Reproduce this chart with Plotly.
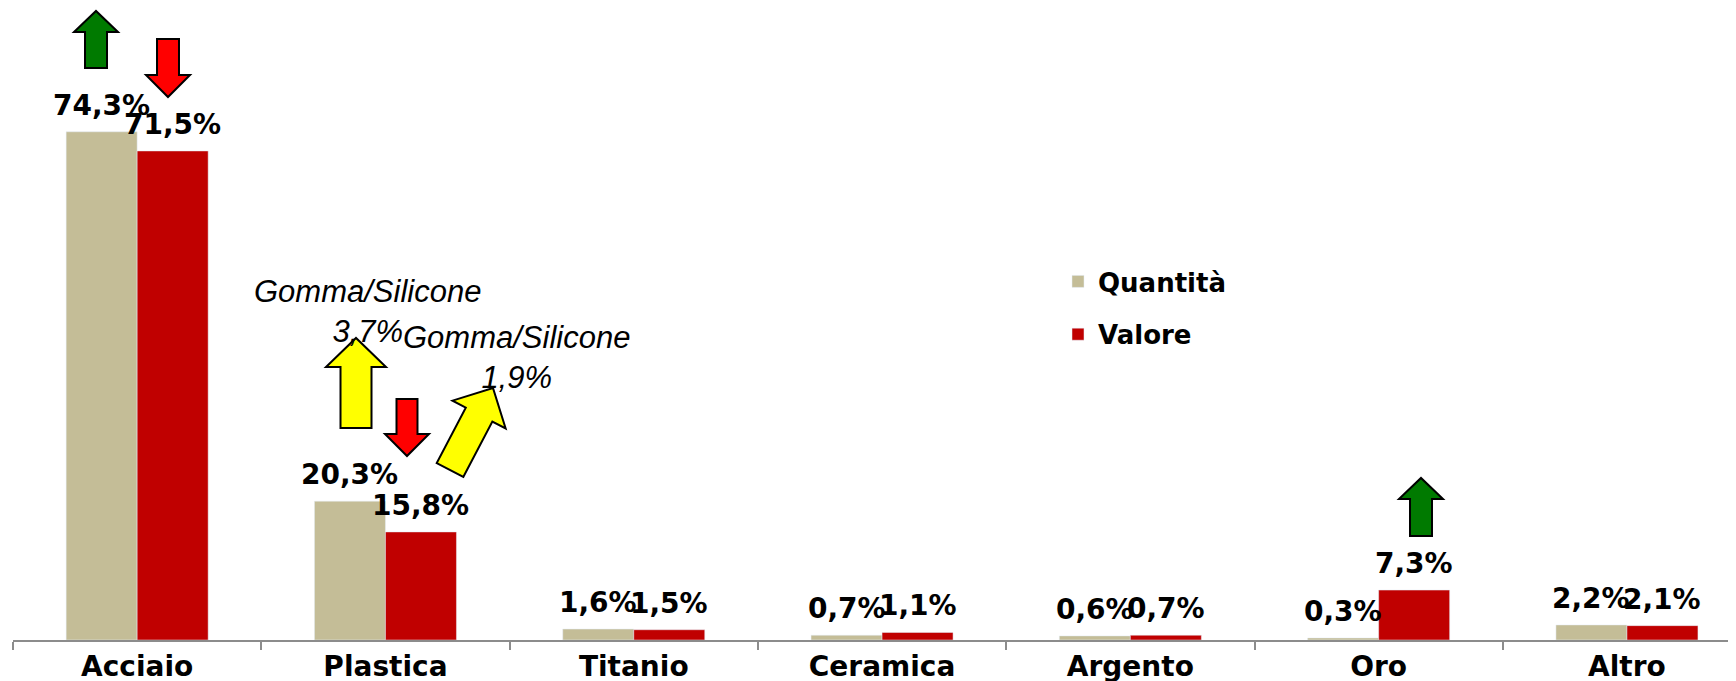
import math
import plotly.graph_objects as go

categories = ["Acciaio", "Plastica", "Titanio", "Ceramica", "Argento", "Oro", "Altro"]
quantita = [74.3, 20.3, 1.6, 0.7, 0.6, 0.3, 2.2]
valore = [71.5, 15.8, 1.5, 1.1, 0.7, 7.3, 2.1]
quantita_labels = ["74,3%", "20,3%", "1,6%", "0,7%", "0,6%", "0,3%", "2,2%"]
valore_labels = ["71,5%", "15,8%", "1,5%", "1,1%", "0,7%", "7,3%", "2,1%"]
gomma_notes = ["Gomma/Silicone<br>3,7%", "Gomma/Silicone<br>1,9%"]

# page body has an 8px default margin: figure is offset by (8, 8) in the window
OFF = 8
W, H = 1736 - OFF, 681 - OFF
AXIS_Y = 640 - OFF            # axis line position inside the figure
ML, MR, MT = 13 - OFF, 0, 0
MB = H - AXIS_Y
PW, PH = W - ML - MR, AXIS_Y - MT
CAT_PX = 248.3
PX_PER_UNIT = 6.84

C_Q = "#c4bd97"
C_V = "#c00000"
LABEL_FONT = dict(family="DejaVu Sans", size=28, color="black")

fig = go.Figure()
fig.add_trace(go.Bar(x=categories, y=quantita, name="Quantità", marker_color=C_Q,
                     legendgroup="q", hoverinfo="skip"))
fig.add_trace(go.Bar(x=categories, y=valore, name="Valore", marker_color=C_V,
                     legendgroup="v", hoverinfo="skip"))

half = 0.5 * (1 - 0.428) / 2
for i, (vq, vv) in enumerate(zip(quantita, valore)):
    fig.add_annotation(x=i - half, y=vq, xref="x", yref="y", text="<b>%s</b>" % quantita_labels[i],
                       showarrow=False, yanchor="bottom", yshift=8, font=LABEL_FONT)
    fig.add_annotation(x=i + half, y=vv, xref="x", yref="y", text="<b>%s</b>" % valore_labels[i],
                       showarrow=False, yanchor="bottom", yshift=8, font=LABEL_FONT)


def px2paper(px, py):
    """window pixel coords -> paper coords"""
    fx, fy = px - OFF, py - OFF
    return (fx - ML) / PW, (MT + PH - fy) / PH


def arrow(tip, tail, head_len, head_hw, shaft_hw, color):
    tx, ty = tip
    bx, by = tail
    dx, dy = tx - bx, ty - by
    L = math.hypot(dx, dy)
    ux, uy = dx / L, dy / L
    nx, ny = -uy, ux
    hbx, hby = tx - ux * head_len, ty - uy * head_len
    pts = [
        (bx + nx * shaft_hw, by + ny * shaft_hw),
        (hbx + nx * shaft_hw, hby + ny * shaft_hw),
        (hbx + nx * head_hw, hby + ny * head_hw),
        (tx, ty),
        (hbx - nx * head_hw, hby - ny * head_hw),
        (hbx - nx * shaft_hw, hby - ny * shaft_hw),
        (bx - nx * shaft_hw, by - ny * shaft_hw),
    ]
    path = "M " + " L ".join("%.5f,%.5f" % px2paper(*p) for p in pts) + " Z"
    fig.add_shape(type="path", path=path, xref="paper", yref="paper",
                  fillcolor=color, line=dict(color="black", width=2), layer="above")


GREEN, RED, YELLOW = "#007a00", "#ff0000", "#ffff00"
arrow((96, 11), (96, 68), 21, 22, 11, GREEN)
arrow((168, 97), (168, 39), 22, 22, 11, RED)
arrow((356, 338), (356, 428), 29, 30, 15.5, YELLOW)
arrow((407, 456), (407, 399), 22, 22, 10.5, RED)
arrow((493, 388), (450, 470), 30, 30, 15, YELLOW)
arrow((1421, 478), (1421, 536), 21, 22, 11, GREEN)

for note, (cx, cy) in zip(gomma_notes, [(367, 311), (517, 357)]):
    x, y = px2paper(cx, cy)
    fig.add_annotation(x=x, y=y, xref="paper", yref="paper", text="<i>%s</i>" % note,
                       showarrow=False, xanchor="center", yanchor="middle", align="center",
                       font=dict(family="Liberation Sans", size=31, color="black"))

lx, ly = px2paper(1058, 258)
fig.update_layout(
    width=W, height=H,
    margin=dict(l=ML, r=MR, t=MT, b=MB, autoexpand=False),
    paper_bgcolor="white", plot_bgcolor="white",
    barmode="group", bargap=0.428, bargroupgap=0,
    showlegend=True,
    legend=dict(x=lx, y=ly, xanchor="left", yanchor="top", bgcolor="rgba(0,0,0,0)",
                font=dict(family="DejaVu Sans", size=26, color="black", weight="bold"),
                tracegroupgap=16, itemwidth=30),
    xaxis=dict(type="category", range=[-0.5, -0.5 + PW / CAT_PX], showgrid=False,
               showline=True, linecolor="#8c8c8c", linewidth=2,
               ticks="outside", ticklen=8, tickwidth=2, tickcolor="#8c8c8c",
               tickson="boundaries", automargin=False,
               tickfont=dict(family="DejaVu Sans", size=28, color="black", weight="bold")),
    yaxis=dict(range=[0, PH / PX_PER_UNIT], visible=False, showgrid=False, zeroline=False,
               automargin=False),
)

fig.write_html("out.html")
